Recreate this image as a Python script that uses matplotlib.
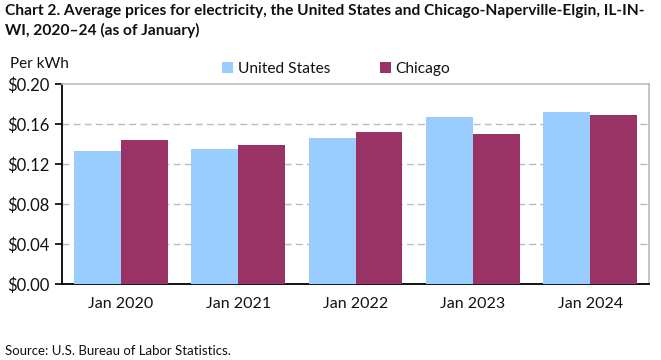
import matplotlib
matplotlib.use("Agg")
import matplotlib.pyplot as plt
import numpy as np

categories = ["Jan 2020", "Jan 2021", "Jan 2022", "Jan 2023", "Jan 2024"]
us_values = [0.133, 0.135, 0.146, 0.167, 0.172]
chicago_values = [0.144, 0.139, 0.152, 0.150, 0.169]
y_ticks = [0.00, 0.04, 0.08, 0.12, 0.16, 0.20]
y_tick_labels = ["$0.00", "$0.04", "$0.08", "$0.12", "$0.16", "$0.20"]

plt.rcParams['font.family'] = ['Lato', 'DejaVu Sans']

W, H = 661, 360
fig = plt.figure(figsize=(W / 100, H / 100), dpi=100)
left, right, top, bottom = 62, 649, 84, 284
ax = fig.add_axes([left / W, 1 - bottom / H, (right - left) / W, (bottom - top) / H])

x = np.arange(len(categories))
bw = 0.4
ax.bar(x - bw / 2, us_values, bw, color="#99CCFF", label="United States", zorder=3)
ax.bar(x + bw / 2, chicago_values, bw, color="#993366", label="Chicago", zorder=3)

ax.set_xlim(-0.5, len(categories) - 0.5)
ax.set_ylim(0, 0.20)
ax.set_yticks(y_ticks)
ax.set_yticklabels(y_tick_labels, fontsize=12, color="#111111")
ax.set_xticks(x)
ax.set_xticklabels(categories, fontsize=11.5, color="#111111")
ax.tick_params(axis="x", length=0, pad=9)
ax.tick_params(axis="y", length=5, width=1.2, direction="out", pad=4, color="black")

for yv in y_ticks[1:-1]:
    ax.axhline(yv, color="#BBBBBB", lw=1, ls=(0, (5, 3)), zorder=1)

ax.spines["left"].set_color("black")
ax.spines["left"].set_linewidth(1.3)
ax.spines["bottom"].set_color("black")
ax.spines["bottom"].set_linewidth(1.3)
ax.spines["top"].set_color("#BBBBBB")
ax.spines["top"].set_linewidth(1.2)
ax.spines["right"].set_color("#BBBBBB")
ax.spines["right"].set_linewidth(1.2)

fig.text(5 / W, 1 - 4 / H,
         "Chart 2. Average prices for electricity, the United States and Chicago-Naperville-Elgin, IL-IN-\nWI, 2020\u201324 (as of January)",
         fontsize=11.2, fontweight="bold", va="top", ha="left", linespacing=1.45, color="#111111")
fig.text(10 / W, 1 - 64 / H, "Per kWh", fontsize=11, va="center", ha="left", color="#111111")
fig.text(5 / W, 1 - 351 / H, "Source: U.S. Bureau of Labor Statistics.", fontsize=9.5,
         va="center", ha="left", color="#111111")

leg = fig.legend(loc="center", bbox_to_anchor=(336 / W, 1 - 69 / H), ncol=2, frameon=False,
                 fontsize=11.2, handlelength=0.7, handleheight=0.7, columnspacing=3.2,
                 handletextpad=0.3)
for t in leg.get_texts():
    t.set_color("#111111")

fig.savefig("out.png", dpi=100)
